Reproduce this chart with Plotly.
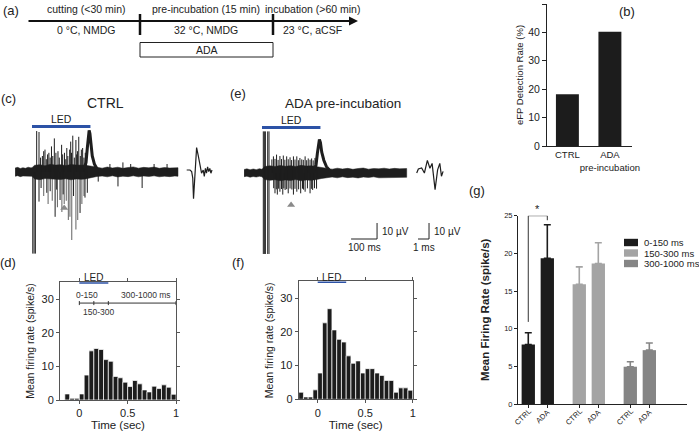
import plotly.graph_objects as go

W, H = 699, 431
def fx(px): return px / W
def fy(py): return 1 - py / H

FONT = "Liberation Sans, Arial, sans-serif"
BLACK = "#1c1c1c"
BLUE = "#2c52a6"
TRACE = "#1e1e1e"

# ---------------- data ----------------
# (a) protocol
stage_names = ["cutting (<30 min)", "pre-incubation (15 min)", "incubation (>60 min)"]
stage_conditions = ["0 °C, NMDG", "32 °C, NMDG", "23 °C, aCSF"]
treatment_label = "ADA"

# (b) eFP detection rate (%)
detect_groups = ["CTRL", "ADA<br>pre-incubation"]
detect_rate = [18.2, 40.2]

# (c) CTRL trace (t in ms, v in µV)
ctrl_env_t = [-65, -55, -45, -35, -25, -15, -5, 0, 10, 30, 50, 70, 90, 110, 130, 150, 170, 190, 205,
              230, 250, 270, 290, 310, 330, 350, 370, 390, 410, 430, 450, 470, 490, 510, 530, 550, 562]
ctrl_env_hi = [2.5, 2.9, 2.2, 2.7, 2.3, 3.0, 2.6, 2.7, 4.2, 4.6, 3.9, 4.8, 4.3, 4.6, 4.0, 4.7, 4.4, 4.5, 4.2,
               3.6, 2.9, 2.4, 3.1, 2.5, 3.0, 2.3, 2.8, 3.2, 2.4, 2.9, 2.6, 3.1, 2.3, 2.8, 2.5, 2.9, 2.7]
ctrl_env_lo = [-2.7, -2.3, -2.9, -2.5, -2.8, -2.4, -2.7, -2.7, -4.3, -4.8, -4.1, -4.6, -4.5, -4.7, -4.2,
               -4.9, -4.3, -4.6, -4.3, -3.6, -2.8, -2.5, -3.0, -2.4, -3.1, -2.6, -2.9, -2.4, -3.0, -2.5,
               -2.8, -2.4, -3.0, -2.6, -2.9, -2.5, -2.7]
ctrl_spike_t = [3, 8, 13, 18, 27, 33, 40, 45, 50, 55, 60, 65, 70, 75, 80, 86, 92, 100, 105, 114, 118, 125,
                130, 134, 138, 145, 149, 152, 157, 163, 169, 172, 175, 180, 186, 190, 195, 200, 205, 210,
                27, 35, 57, 70, 89, 95, 108, 120, 160, 185, 204, 213, 255, 300, 331, 350, 380, 424, 470,
                520]
ctrl_spike_v = [-51, -51, -51, 25.6, 25, 9, 10, 13, 14, 8, 11, 12, 9, 16, 10, 21, 12, 13, 9, 17, 11, 12,
                8, 15, 10, 14, 19, 12, 22.7, 9, 20, 11, 13, 22, 10, 14, 15, 9, 12, 8,
                -18.5, -10, -13, -12, -28, -11, -17.5, -14, -15, -25.6, -16, -13, -6, 5, -9, 6, 5, -10,
                5, 5]
ctrl_gray_spike_t = [45, 62, 78, 98, 115, 124, 132, 140, 146, 153, 169, 176, 192, 200]
ctrl_gray_spike_v = [-15, -20, -18, -22, -25, -20, -18, -30, -28, -42.5, -36, -30, -20, -15]
ctrl_hump_t = [200, 208, 213, 217, 220, 223, 227, 232, 240, 250]
ctrl_hump_v = [2, 6, 15, 23, 26, 24, 16, 10, 5, 2]
ctrl_marker = (124, -22.5)
ctrl_wave_t = [0, 0.3, 0.45, 0.55, 0.62, 0.75, 0.9, 1.05, 1.2, 1.35, 1.5, 1.6, 1.7, 1.8, 1.9, 2.0, 2.1, 2.2,
               2.3]
ctrl_wave_v = [0, 0, -1, -5, -18, -5, 14, 9, 2, -2, 0, -4, 1, -2, 2, -1, 1, -2, 0]

# (e) ADA trace
ada_env_t = [-69, -58, -46, -34, -22, -10, 0, 10, 30, 50, 70, 90, 110, 130, 150, 170, 190, 205, 230, 250,
             270, 290, 310, 330, 350, 370, 390, 410, 430, 450, 470, 490, 510, 530, 557]
ada_env_hi = [2.2, 2.6, 2.0, 2.5, 2.1, 2.7, 2.3, 4.0, 4.5, 4.1, 4.7, 4.2, 4.6, 4.1, 4.8, 4.3, 4.5, 4.1,
              3.4, 2.8, 2.4, 3.0, 2.5, 2.9, 2.3, 2.8, 3.1, 2.4, 2.8, 2.6, 3.0, 2.5, 2.9, 2.6, 2.8]
ada_env_lo = [-2.3, -2.0, -2.6, -2.2, -2.5, -2.1, -2.3, -4.1, -4.6, -4.2, -4.8, -4.3, -4.7, -4.1, -4.9,
              -4.4, -4.6, -4.2, -3.4, -2.8, -2.5, -3.0, -2.4, -2.9, -2.6, -3.1, -2.5, -2.8, -2.4, -3.0,
              -2.6, -2.9, -2.5, -2.8, -2.7]
ada_spike_t = [5, 9, 13, 22, 27, 5, 9, 13, 22, 27,
               38, 44, 50, 56, 62, 69, 75, 82, 88, 95, 101, 108, 114, 121, 127, 134, 140, 146, 153, 159,
               166, 172, 178, 185, 191, 197, 204, 210,
               45, 50, 55, 59, 64, 69, 75, 80, 84, 89, 95, 101, 108, 115, 121, 127, 134, 141, 149, 156,
               160, 166, 175, 185, 190, 195, 202, 210]
ada_spike_v = [26, 26, 26, 26, 26, -50.6, -50.6, -50.6, -50.6, -50.6,
               8.5, 10.4, 8.8, 11.5, 8.2, 10.6, 8.7, 10.9, 8.3, 10.4, 8.6, 9.8, 8.1, 10.4, 8.4, 10.4, 8.0,
               9.4, 8.5, 8.2, 10.4, 8.0, 9.1, 8.3, 9.1, 7.9, 9.4, 8.0,
               -9.5, -12.7, -10.2, -13.5, -9.8, -11.7, -10.0, -13.5, -9.6, -10.6, -10.1, -12.7, -9.7,
               -10.3, -13.5, -9.9, -11.7, -10.2, -12.7, -9.8, -10.4, -11.7, -9.6, -12.7, -9.9, -10.6,
               -9.5, -9.8]
ada_hump_t = [200, 208, 213, 217, 221, 225, 230, 238, 248, 258]
ada_hump_v = [2, 5, 12, 18, 21, 19, 13, 8, 4, 2]
ada_marker = (112, -20)
ada_wave_t = [0, 0.15, 0.45, 0.7, 0.97, 1.2, 1.4, 1.67, 1.9, 2.1, 2.25, 2.4]
ada_wave_v = [0, 2.5, 3.1, 0, 7.9, 3, 6, -10.4, 2, 6, -2, 1]

led_duration_ms = 225
scale_time_ms = 100
scale_volt_uv = 10
inset_scale_ms = 1

# (d)/(f) PSTH, 50 ms bins from -0.2 s
bin_start = -0.2
bin_width = 0.05
ctrl_hist = [0, 1.8, 0.5, 0.5, 1.8, 7.4, 14.6, 15.3, 15.0, 12.0, 11.5, 7.0, 6.6, 5.3, 4.0, 5.8,
             4.8, 3.0, 2.4, 4.1, 3.4, 4.5, 3.8, 1.7]
ada_hist = [2.1, 0.7, 0.7, 2.8, 7.8, 22.7, 26.9, 20.6, 17.8, 17.0, 12.9, 10.7, 11.4, 7.8, 9.1, 9.1,
            7.8, 7.1, 5.6, 5.6, 2.1, 3.4, 3.4, 2.7]
led_window_s = [0, 0.3]
window_edges_s = [0, 0.15, 0.3, 1.0]
window_labels = ["0-150", "150-300", "300-1000 ms"]

# (g) mean firing rate per window
window_names = ["0-150 ms", "150-300 ms", "300-1000 ms"]
window_colors = ["#1c1c1c", "#a4a4a4", "#858585"]
cond_names = ["CTRL", "ADA"]
ctrl_mean = [7.9, 15.9, 4.95]
ctrl_sem = [1.55, 2.3, 0.65]
ada_mean = [19.35, 18.65, 7.15]
ada_sem = [4.45, 2.75, 0.95]
sig_bracket_y = [10.9, 25, 25, 24.4]

fig = go.Figure()
ann = []
shapes = []

def A(x, y, text, size=10.5, xref="paper", yref="paper", xanchor="center", yanchor="middle",
      color="#222", **kw):
    ann.append(dict(x=x, y=y, xref=xref, yref=yref, text=text, showarrow=False, xanchor=xanchor,
                    yanchor=yanchor, font=dict(size=size, color=color), **kw))

# ---------------- (a) protocol timeline ----------------
bx = [27, 140, 273, 352]
ann.append(dict(x=fx(358), y=fy(21), ax=-(358 - 27), ay=0, xref="paper", yref="paper",
                axref="pixel", ayref="pixel", text="", showarrow=True, arrowhead=2,
                arrowsize=0.9, arrowwidth=2, arrowcolor="#111"))
for b in bx[1:3]:
    shapes.append(dict(type="line", xref="paper", yref="paper", x0=fx(b), x1=fx(b),
                       y0=fy(14), y1=fy(35), line=dict(color="#111", width=2.5)))
centers = [86, 206, 312]
for c, nm, cond in zip(centers, stage_names, stage_conditions):
    A(fx(c), fy(9), nm)
    A(fx(c), fy(30.5), cond)
shapes.append(dict(type="rect", xref="paper", yref="paper", x0=fx(140), x1=fx(273),
                   y0=fy(57), y1=fy(42.5), line=dict(color="#222", width=1)))
A(fx(206.5), fy(50), treatment_label)

# ---------------- (b) detection rate ----------------
fig.add_trace(go.Bar(x=[0, 1], y=detect_rate, width=0.54, marker=dict(color=BLACK, line_width=0),
                     xaxis="x", yaxis="y", showlegend=False))

# ---------------- traces (c) / (e) ----------------
def band(t, hi, lo):
    return t + t[::-1], hi + lo[::-1]

def segs(ts, vs):
    xs, ys = [], []
    for t, v in zip(ts, vs):
        xs += [t, t, None]
        ys += [0, v, None]
    return xs, ys

for (env_t, hi, lo, sp_t, sp_v, hump_t, hump_v, mk, xa, ya) in [
        (ctrl_env_t, ctrl_env_hi, ctrl_env_lo, ctrl_spike_t, ctrl_spike_v, ctrl_hump_t, ctrl_hump_v,
         ctrl_marker, "x2", "y2"),
        (ada_env_t, ada_env_hi, ada_env_lo, ada_spike_t, ada_spike_v, ada_hump_t, ada_hump_v,
         ada_marker, "x4", "y4")]:
    if xa == "x2":
        gx, gy = segs(ctrl_gray_spike_t, ctrl_gray_spike_v)
        fig.add_trace(go.Scatter(x=gx, y=gy, mode="lines", line=dict(color="#707070", width=1.1),
                                 xaxis="x2", yaxis="y2", showlegend=False, hoverinfo="skip"))
    bxs, bys = band(env_t, hi, lo)
    fig.add_trace(go.Scatter(x=bxs, y=bys, fill="toself", fillcolor=TRACE, mode="lines",
                             line=dict(color=TRACE, width=0.5), xaxis=xa, yaxis=ya,
                             showlegend=False, hoverinfo="skip"))
    sx, sy = segs(sp_t, sp_v)
    fig.add_trace(go.Scatter(x=sx, y=sy, mode="lines", line=dict(color=TRACE, width=1.0),
                             xaxis=xa, yaxis=ya, showlegend=False, hoverinfo="skip"))
    fig.add_trace(go.Scatter(x=hump_t, y=hump_v, mode="lines", line=dict(color=TRACE, width=3),
                             xaxis=xa, yaxis=ya, showlegend=False, hoverinfo="skip"))
    fig.add_trace(go.Scatter(x=[mk[0]], y=[mk[1]], mode="markers",
                             marker=dict(symbol="triangle-up", size=7, color="#8a8a8a"),
                             xaxis=xa, yaxis=ya, showlegend=False, hoverinfo="skip"))
    fig.add_trace(go.Scatter(x=[0, led_duration_ms], y=[28.4, 28.4], mode="lines",
                             line=dict(color=BLUE, width=3), xaxis=xa, yaxis=ya,
                             showlegend=False, cliponaxis=False, hoverinfo="skip"))
    A(led_duration_ms / 2, 33.2, "LED", xref=xa, yref=ya)

for wt, wv, xa, ya in [(ctrl_wave_t, ctrl_wave_v, "x3", "y3"), (ada_wave_t, ada_wave_v, "x5", "y5")]:
    fig.add_trace(go.Scatter(x=wt, y=wv, mode="lines", line=dict(color=TRACE, width=1.2),
                             xaxis=xa, yaxis=ya, showlegend=False, hoverinfo="skip"))

# scale bars
sb_t0, sb_v0 = 343, -41.25
fig.add_trace(go.Scatter(x=[sb_t0, sb_t0 + scale_time_ms, sb_t0 + scale_time_ms],
                         y=[sb_v0, sb_v0, sb_v0 + scale_volt_uv], mode="lines",
                         line=dict(color="#222", width=1), xaxis="x4", yaxis="y4",
                         showlegend=False, cliponaxis=False, hoverinfo="skip"))
A(sb_t0 + scale_time_ms + 10, sb_v0 + scale_volt_uv / 2, "10 µV", size=10, xref="x4", yref="y4",
  xanchor="left")
A(sb_t0 + scale_time_ms / 2, sb_v0 - 5.3, "100 ms", size=10, xref="x4", yref="y4")
is_t0 = 0.12
fig.add_trace(go.Scatter(x=[is_t0, is_t0 + inset_scale_ms, is_t0 + inset_scale_ms],
                         y=[sb_v0, sb_v0, sb_v0 + scale_volt_uv], mode="lines",
                         line=dict(color="#222", width=1), xaxis="x5", yaxis="y5",
                         showlegend=False, cliponaxis=False, hoverinfo="skip"))
A(is_t0 + inset_scale_ms + 0.25, sb_v0 + scale_volt_uv / 2, "10 µV", size=10, xref="x5", yref="y5",
  xanchor="left")
A(is_t0 + inset_scale_ms / 2, sb_v0 - 5.3, "1 ms", size=10, xref="x5", yref="y5")

# ---------------- (d) / (f) PSTH ----------------
for hist, xa, ya in [(ctrl_hist, "x6", "y6"), (ada_hist, "x7", "y7")]:
    centers_h = [bin_start + bin_width * (i + 0.5) for i in range(len(hist))]
    fig.add_trace(go.Bar(x=centers_h, y=hist, width=bin_width,
                         marker=dict(color=BLACK, line=dict(color="white", width=0.7)),
                         xaxis=xa, yaxis=ya, showlegend=False))
    fig.add_trace(go.Scatter(x=led_window_s, y=[35, 35], mode="lines", line=dict(color=BLUE, width=3),
                             xaxis=xa, yaxis=ya, showlegend=False, cliponaxis=False, hoverinfo="skip"))
    A(sum(led_window_s) / 2, fy(277), "LED", size=10, xref=xa, yref="paper")

# window markers on (d)
mx = [window_edges_s[0], window_edges_s[-1]]
fig.add_trace(go.Scatter(x=mx, y=[28.8, 28.8], mode="lines", line=dict(color="#333", width=1),
                         xaxis="x6", yaxis="y6", showlegend=False, hoverinfo="skip"))
tx, ty = [], []
for e in window_edges_s:
    tx += [e, e, None]
    ty += [28.2, 29.4, None]
fig.add_trace(go.Scatter(x=tx, y=ty, mode="lines", line=dict(color="#333", width=1),
                         xaxis="x6", yaxis="y6", showlegend=False, hoverinfo="skip"))
win_pos = [(0.075, 31.1), (0.2, 26.1), (0.69, 31.1)]
for lbl, (px_, py_) in zip(window_labels, win_pos):
    A(px_, py_, lbl, size=8.5, xref="x6", yref="y6", color="#333")

# ---------------- (g) grouped bars ----------------
group_gap = 2.68
for g, (nm, col) in enumerate(zip(window_names, window_colors)):
    xs = [g * group_gap, g * group_gap + 1]
    fig.add_trace(go.Bar(x=xs, y=[ctrl_mean[g], ada_mean[g]], width=0.7, name=nm,
                         marker=dict(color=col, line_width=0),
                         error_y=dict(type="data", symmetric=False, array=[ctrl_sem[g], ada_sem[g]],
                                      arrayminus=[0, 0], color=col, thickness=1.6, width=3.5),
                         xaxis="x8", yaxis="y8", showlegend=False))
fig.add_trace(go.Scatter(x=[0, 0, 1, 1], y=sig_bracket_y, mode="lines",
                         line=dict(color="#333", width=1), xaxis="x8", yaxis="y8",
                         showlegend=False, cliponaxis=False, hoverinfo="skip"))
A(0.5, fy(209), "*", size=11, xref="x8", yref="paper")
# legend for (g)
for i, (nm, col) in enumerate(zip(window_names, window_colors)):
    yc = 242.5 + i * 10.5
    shapes.append(dict(type="rect", xref="paper", yref="paper", x0=fx(624), x1=fx(638),
                       y0=fy(yc + 3.7), y1=fy(yc - 3.7), fillcolor=col, line_width=0))
    A(fx(641.5), fy(yc), nm, size=9.5, xanchor="left")
g_tick_x = []
g_tick_t = []
for g in range(3):
    for j, c in enumerate(cond_names):
        g_tick_x.append(g * group_gap + j)
        g_tick_t.append(c)
# rotated category labels under (g)
for xv, tt in zip(g_tick_x, g_tick_t):
    A(xv, fy(416.5), tt, size=7.5, xref="x8", yref="paper", textangle=-45,
      xshift=-5 if tt == "CTRL" else -4.5)

# ---------------- titles and panel labels ----------------
A(fx(105), fy(103), "CTRL", size=14)
A(fx(343), fy(103), "ADA pre-incubation", size=13.5)
for lbl, x_, y_ in [("(a)", 11, 11), ("(b)", 627, 12), ("(c)", 8, 98), ("(d)", 8, 262),
                    ("(e)", 238, 94), ("(f)", 238, 262), ("(g)", 477, 190)]:
    A(fx(x_), fy(y_), lbl, size=13)

# ---------------- axes ----------------
hidden = dict(visible=False, showgrid=False, zeroline=False, fixedrange=True)
tick_common = dict(showgrid=False, zeroline=False, automargin=False, color="#222")

layout = dict(
    width=W, height=H, margin=dict(l=0, r=0, t=0, b=0),
    paper_bgcolor="white", plot_bgcolor="white",
    font=dict(family=FONT, color="#222"),
    barmode="overlay",
    annotations=ann, shapes=shapes,
    xaxis=dict(domain=[fx(547), fx(632)], range=[-0.48, 1.52], tickvals=[0, 1], ticktext=detect_groups,
               tickangle=0, showline=True, linecolor="#222", linewidth=1, ticks="",
               tickfont=dict(size=9.5), anchor="y", **tick_common),
    yaxis=dict(domain=[fy(146), fy(4)], range=[0, 50], dtick=10, showline=True, linecolor="#222",
               ticks="outside", ticklen=4, tickfont=dict(size=10.5), anchor="x",
               title=dict(text="eFP Detection Rate (%)", font=dict(size=9.5), standoff=2), **tick_common),
    xaxis2=dict(domain=[fx(10), fx(182)], range=[-84.7, 577.5], anchor="y2", **hidden),
    yaxis2=dict(domain=[fy(260), fy(100)], range=[-55, 45], anchor="x2", **hidden),
    xaxis3=dict(domain=[fx(183), fx(217)], range=[-0.336, 2.755], anchor="y3", **hidden),
    yaxis3=dict(domain=[fy(260), fy(100)], range=[-56.25, 43.75], anchor="x3", **hidden),
    xaxis4=dict(domain=[fx(240), fx(410)], range=[-84.7, 569.8], anchor="y4", **hidden),
    yaxis4=dict(domain=[fy(261), fy(101)], range=[-55, 45], anchor="x4", **hidden),
    xaxis5=dict(domain=[fx(413), fx(447)], range=[-0.336, 2.755], anchor="y5", **hidden),
    yaxis5=dict(domain=[fy(261), fy(101)], range=[-55, 45], anchor="x5", **hidden),
)
for xa, ya, xd, yd in [("xaxis6", "yaxis6", [fx(60), fx(176)], [fy(400), fy(282.2)]),
                       ("xaxis7", "yaxis7", [fx(298.7), fx(412.7)], [fy(399.3), fy(281.4)])]:
    n = xa[-1]
    layout[xa] = dict(domain=xd, range=[-0.2, 1.0], tickvals=[0, 0.5, 1], ticktext=["0", "0.5", "1"],
                      showline=True, linecolor="#555", linewidth=1, mirror="ticks", ticks="outside",
                      ticklen=3, tickcolor="#555", tickfont=dict(size=11), anchor="y" + n,
                      title=dict(text="Time (sec)", font=dict(size=11.5), standoff=4), **tick_common)
    layout[ya] = dict(domain=yd, range=[0, 35], tickvals=[0, 10, 20, 30], showline=True,
                      linecolor="#555", linewidth=1, mirror="ticks", ticks="outside", ticklen=3,
                      tickcolor="#555", tickfont=dict(size=11), anchor="x" + n,
                      title=dict(text="Mean firing rate (spike/s)", font=dict(size=10.5), standoff=4),
                      **tick_common)
layout["xaxis8"] = dict(domain=[fx(518), fx(687)], range=[-0.54, 8.34], tickvals=g_tick_x,
                        showticklabels=False, showline=True, linecolor="#222", linewidth=1,
                        ticks="outside", ticklen=3, anchor="y8", **tick_common)
layout["yaxis8"] = dict(domain=[fy(404), fy(215.7)], range=[0, 25], dtick=5, showline=True,
                        linecolor="#222", linewidth=1, ticks="outside", ticklen=3,
                        tickfont=dict(size=7.5), anchor="x8",
                        title=dict(text="<b>Mean Firing Rate (spike/s)</b>", font=dict(size=11.5),
                                   standoff=12), **tick_common)

fig.update_layout(**layout)
fig.write_html("out.html", config={"displayModeBar": False},
               post_script="document.body.style.margin='0px';document.body.style.padding='0px';")
